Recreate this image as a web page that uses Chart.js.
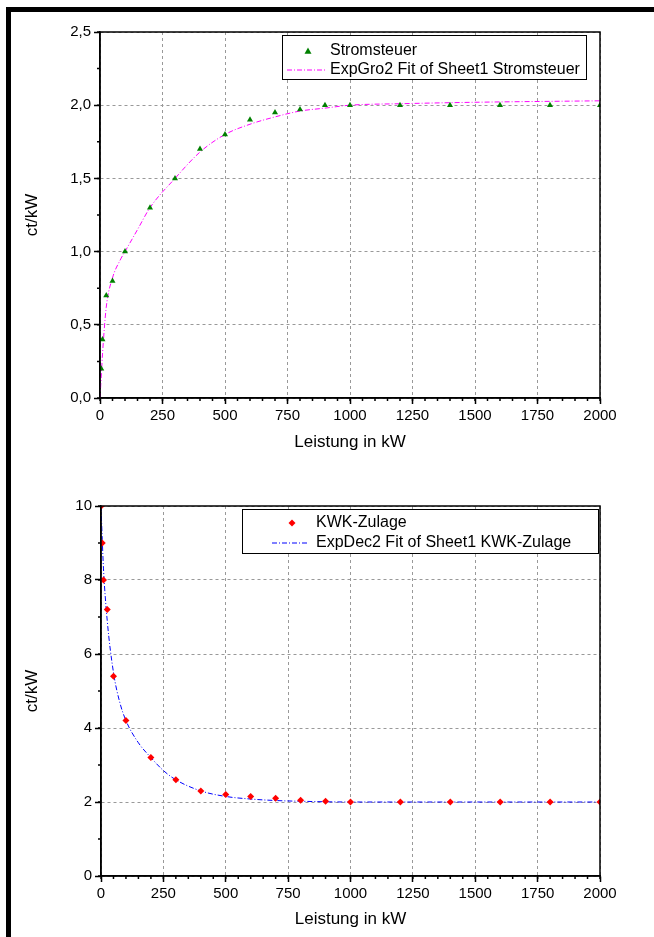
<!DOCTYPE html>
<html>
<head>
  <title>Stromsteuer und KWK-Zulage</title>
  <script src="https://cdn.jsdelivr.net/npm/chart.js"></script>
  <style>
    body { margin: 0; background: #fff; }
    /* thick black edge at top and left of the page */
    #frame {
      position: absolute; left: 6px; top: 7px; right: 0; bottom: 0;
      border-top: 5px solid #000; border-left: 5px solid #000;
    }
    canvas { position: absolute; left: 0; }
    #topChart { top: 0; }
    #bottomChart { top: 470px; }
  </style>
</head>
<body>
  <div id="frame"></div>
  <canvas id="topChart" width="654" height="470"></canvas>
  <canvas id="bottomChart" width="654" height="467"></canvas>

<script>
// Stromsteuer measured points
let stromX = [5, 10, 25, 50, 100, 200, 300, 400, 500, 600, 700, 800, 900, 1000, 1200, 1400, 1600, 1800, 2000];
let stromY = [0.2, 0.4, 0.7, 0.8, 1.0, 1.3, 1.5, 1.7, 1.8, 1.9, 1.95, 1.97, 2.0, 2.0, 2.0, 2.0, 2.0, 2.0, 2.0];
// ExpGro2 fit curve
let stromFitX = [0, 5, 10, 25, 50, 80, 100, 150, 200, 300, 400, 500, 600, 700, 800, 900, 1000, 1200, 1500, 2000];
let stromFitY = [0, 0.15, 0.3, 0.62, 0.82, 0.94, 1.0, 1.15, 1.3, 1.5, 1.68, 1.8, 1.87, 1.92, 1.96, 1.98, 2.0, 2.01, 2.02, 2.03];

// KWK-Zulage measured points
let kwkX = [1, 5, 10, 25, 50, 100, 200, 300, 400, 500, 600, 700, 800, 900, 1000, 1200, 1400, 1600, 1800, 2000];
let kwkY = [10, 9, 8, 7.2, 5.4, 4.2, 3.2, 2.6, 2.3, 2.2, 2.15, 2.1, 2.05, 2.02, 2.0, 2.0, 2.0, 2.0, 2.0, 2.0];
// ExpDec2 fit curve
let kwkFitX = [0, 5, 10, 25, 50, 75, 100, 150, 200, 250, 300, 400, 500, 600, 700, 800, 1000, 1500, 2000];
let kwkFitY = [10, 9.1, 8.3, 6.9, 5.5, 4.7, 4.2, 3.6, 3.2, 2.85, 2.6, 2.3, 2.15, 2.08, 2.04, 2.02, 2.0, 2.0, 2.0];

let xTicks = [0, 250, 500, 750, 1000, 1250, 1500, 1750, 2000];

const FONT = "'Liberation Sans', Arial, sans-serif";

function pairs(xs, ys) {
  return xs.map((x, i) => ({ x: x, y: ys[i] }));
}

function drawMarker(ctx, style, x, y, r, color) {
  ctx.fillStyle = color;
  ctx.beginPath();
  if (style === 'triangle') {
    ctx.moveTo(x, y - r);
    ctx.lineTo(x + r, y + r * 0.75);
    ctx.lineTo(x - r, y + r * 0.75);
  } else {
    ctx.moveTo(x, y - r);
    ctx.lineTo(x + r, y);
    ctx.lineTo(x, y + r);
    ctx.lineTo(x - r, y);
  }
  ctx.closePath();
  ctx.fill();
}

// minor ticks, solid plot frame and boxed legend
const extras = {
  id: 'extras',
  afterDraw(chart, args, opts) {
    const ctx = chart.ctx;
    const a = chart.chartArea;
    const xs = chart.scales.x, ys = chart.scales.y;
    ctx.save();
    ctx.strokeStyle = '#000';
    ctx.lineWidth = 1.5;
    ctx.setLineDash([]);
    ctx.beginPath();
    for (let v = xs.min; v <= xs.max + 1e-9; v += opts.xMinor) {
      const px = xs.getPixelForValue(v);
      ctx.moveTo(px, a.bottom);
      ctx.lineTo(px, a.bottom + 3);
    }
    for (let v = ys.min; v <= ys.max + 1e-9; v += opts.yMinor) {
      const py = ys.getPixelForValue(v);
      ctx.moveTo(a.left, py);
      ctx.lineTo(a.left - 3, py);
    }
    ctx.stroke();
    ctx.strokeRect(a.left, a.top, a.right - a.left, a.bottom - a.top);

    // legend
    const L = opts.legend;
    ctx.fillStyle = '#fff';
    ctx.fillRect(L.x, L.y, L.w, L.h);
    ctx.lineWidth = 1;
    ctx.strokeStyle = '#000';
    ctx.strokeRect(L.x + 0.5, L.y + 0.5, L.w, L.h);
    ctx.font = '16px ' + FONT;
    ctx.textBaseline = 'middle';
    const ds = chart.data.datasets;
    drawMarker(ctx, ds[0].pointStyle, L.markX, L.row1, 3.5, ds[0].backgroundColor);
    ctx.strokeStyle = ds[1].borderColor;
    ctx.setLineDash(ds[1].borderDash);
    ctx.beginPath();
    ctx.moveTo(L.lineX0, L.row2);
    ctx.lineTo(L.lineX1, L.row2);
    ctx.stroke();
    ctx.setLineDash([]);
    ctx.fillStyle = '#000';
    ctx.fillText(ds[0].label, L.textX, L.row1);
    ctx.fillText(ds[1].label, L.textX, L.row2);
    ctx.restore();
  }
};

function makeChart(id, cfg) {
  let gridOpts = { color: '#999', lineWidth: 1, tickColor: '#000', tickLength: 6, tickWidth: 1.5, tickBorderDash: [] };
  let borderOpts = { color: '#000', width: 1.5, dash: [3, 3] };
  let options = {
    type: 'scatter',
    data: {
      datasets: [{
        label: cfg.pointLabel,
        data: pairs(cfg.px, cfg.py),
        pointStyle: cfg.pointStyle,
        pointRadius: 3.5,
        backgroundColor: cfg.pointColor,
        borderColor: cfg.pointColor,
        borderWidth: 0,
        order: 1
      }, {
        label: cfg.fitLabel,
        data: pairs(cfg.fx, cfg.fy),
        showLine: true,
        pointRadius: 0,
        borderColor: cfg.fitColor,
        borderWidth: 1,
        borderDash: [5, 2, 1, 2],
        cubicInterpolationMode: 'monotone',
        order: 2
      }]
    },
    options: {
      responsive: false,
      animation: false,
      layout: { padding: cfg.padding },
      plugins: {
        legend: { display: false },
        tooltip: { enabled: false },
        extras: { xMinor: 50, yMinor: cfg.yMinor, legend: cfg.legend }
      },
      scales: {
        x: {
          type: 'linear', min: 0, max: 2000,
          afterBuildTicks: s => { s.ticks = xTicks.map(v => ({ value: v })); },
          afterFit: s => { s.height = cfg.xHeight; },
          grid: gridOpts,
          border: borderOpts,
          ticks: { color: '#000', font: { family: FONT, size: 15 }, padding: 3, maxRotation: 0, callback: v => String(v) },
          title: { display: true, text: 'Leistung in kW', color: '#000', font: { family: FONT, size: 17 }, padding: 0 }
        },
        y: {
          type: 'linear', min: 0, max: cfg.yMax,
          ticks: {
            stepSize: cfg.yStep, color: '#000', font: { family: FONT, size: 15 }, padding: 3,
            callback: cfg.yFormat
          },
          afterFit: s => { s.width = cfg.yWidth; },
          grid: gridOpts,
          border: borderOpts,
          title: { display: true, text: 'ct/kW', color: '#000', font: { family: FONT, size: 17 }, padding: 0 }
        }
      }
    },
    plugins: [extras]
  };
  return new Chart(document.getElementById(id), options);
}

makeChart('topChart', {
  px: stromX, py: stromY, fx: stromFitX, fy: stromFitY,
  pointLabel: 'Stromsteuer', fitLabel: 'ExpGro2 Fit of Sheet1 Stromsteuer',
  pointStyle: 'triangle', pointColor: '#008000', fitColor: '#ff00ff',
  yMax: 2.5, yStep: 0.5, yMinor: 0.25,
  yFormat: v => v.toFixed(1).replace('.', ','),
  padding: { left: 22, right: 54, top: 32, bottom: 17 },
  yWidth: 78, xHeight: 55,
  legend: { x: 282, y: 35, w: 304, h: 44, markX: 308, lineX0: 287, lineX1: 326, textX: 330, row1: 51, row2: 70 }
});

makeChart('bottomChart', {
  px: kwkX, py: kwkY, fx: kwkFitX, fy: kwkFitY,
  pointLabel: 'KWK-Zulage', fitLabel: 'ExpDec2 Fit of Sheet1 KWK-Zulage',
  pointStyle: 'rectRot', pointColor: '#ff0000', fitColor: '#0000ff',
  yMax: 10, yStep: 2, yMinor: 1,
  yFormat: v => String(v),
  padding: { left: 22, right: 54, top: 36, bottom: 7 },
  yWidth: 79, xHeight: 54,
  legend: { x: 242, y: 39, w: 356, h: 44, markX: 292, lineX0: 272, lineX1: 308, textX: 316, row1: 53, row2: 73 }
});
</script>
</body>
</html>
